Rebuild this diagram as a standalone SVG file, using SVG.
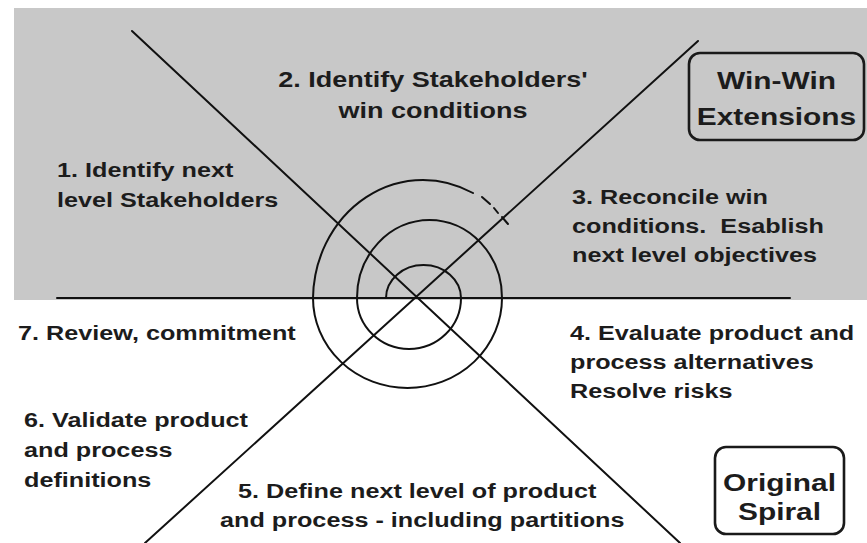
<svg xmlns="http://www.w3.org/2000/svg" width="867" height="543" viewBox="0 0 867 543">
<style>
.t{font-family:"Liberation Sans",Arial,sans-serif;font-weight:bold;font-size:21px;fill:#1c1c1c}
.t2{font-size:22.5px}
.b{font-size:24.5px;text-anchor:middle}
.m{text-anchor:middle}
.ln{stroke:#111;stroke-width:2;fill:none;stroke-linecap:round}
.box{fill:none;stroke:#1a1a1a;stroke-width:2.6}
</style>
<rect width="867" height="543" fill="#ffffff"/>
<rect id="gray-band" x="14" y="8" width="853" height="292" fill="#c8c8c8"/>
<g id="connectors">
<line class="ln" x1="57" y1="298" x2="790" y2="298" stroke-width="2.6"/>
<line class="ln" x1="132" y1="31" x2="680" y2="543"/>
<line class="ln" x1="698" y1="41" x2="145" y2="543"/>
</g>
<g id="spiral">
<path class="ln" d="M386,298 A37.5,33 0 0 1 461,298 A52,51 0 0 1 357,298 A72.5,78 0 0 1 502,298 A94.5,90 0 0 1 313,298 A110,120 0 0 1 473,193" stroke-width="2.4"/>
<path class="ln" d="M482,197 L490,204 M494,208 L498,213 M502,217 L508,224" stroke-width="2.2"/>
</g>
<g id="label-1">
<text class="t" transform="matrix(1.2 0 0 1 57 177)">1. Identify next</text>
<text class="t" transform="matrix(1.2 0 0 1 57 207)">level Stakeholders</text>
</g>
<g id="label-2">
<text class="t t2 m" transform="matrix(1.2 0 0 1 433 87)">2. Identify Stakeholders'</text>
<text class="t t2 m" transform="matrix(1.2 0 0 1 433 118)">win conditions</text>
</g>
<g id="label-3">
<text class="t" transform="matrix(1.2 0 0 1 572 204)">3. Reconcile win</text>
<text class="t" transform="matrix(1.2 0 0 1 572 233)" xml:space="preserve">conditions.  Esablish</text>
<text class="t" transform="matrix(1.2 0 0 1 572 262)">next level objectives</text>
</g>
<g id="label-4">
<text class="t" transform="matrix(1.2 0 0 1 570 340)">4. Evaluate product and</text>
<text class="t" transform="matrix(1.2 0 0 1 570 369)">process alternatives</text>
<text class="t" transform="matrix(1.2 0 0 1 570 398)">Resolve risks</text>
</g>
<g id="label-5">
<text class="t" transform="matrix(1.2 0 0 1 238 498)">5. Define next level of product</text>
<text class="t" transform="matrix(1.2 0 0 1 220 527)">and process - including partitions</text>
</g>
<g id="label-6">
<text class="t" transform="matrix(1.2 0 0 1 24 427)">6. Validate product</text>
<text class="t" transform="matrix(1.2 0 0 1 24 457)">and process</text>
<text class="t" transform="matrix(1.2 0 0 1 24 487)">definitions</text>
</g>
<g id="label-7">
<text class="t" transform="matrix(1.2 0 0 1 18 340)">7. Review, commitment</text>
</g>
<g id="box-winwin">
<rect class="box" x="689" y="53" width="175" height="87" rx="11"/>
<text class="t b" transform="matrix(1.22 0 0 1 776.5 89)">Win-Win</text>
<text class="t b" transform="matrix(1.22 0 0 1 776.5 125)">Extensions</text>
</g>
<g id="box-original">
<rect class="box" x="715" y="447" width="129" height="87" rx="11"/>
<text class="t b" transform="matrix(1.22 0 0 1 779.5 491)">Original</text>
<text class="t b" transform="matrix(1.22 0 0 1 779.5 520)">Spiral</text>
</g>
</svg>
